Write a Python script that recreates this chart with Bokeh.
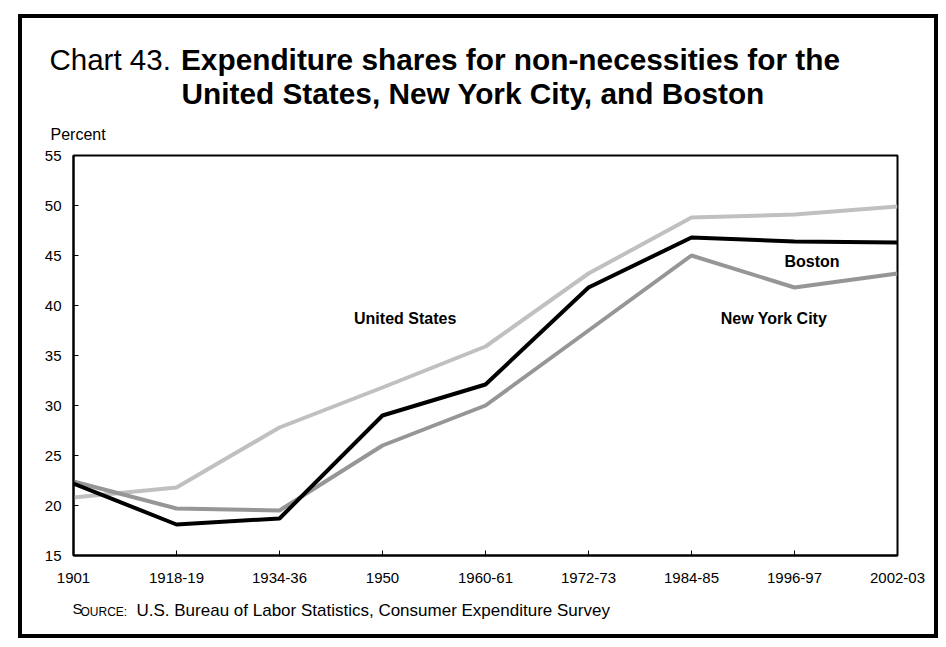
from bokeh.plotting import figure
from bokeh.models import Range1d, FixedTicker, Label
from bokeh.embed import file_html
from bokeh.resources import INLINE

categories = ["1901", "1918-19", "1934-36", "1950", "1960-61", "1972-73", "1984-85", "1996-97", "2002-03"]
us = [20.8, 21.8, 27.8, 31.8, 35.9, 43.2, 48.8, 49.1, 49.9]
boston = [22.2, 18.1, 18.7, 29.0, 32.1, 41.8, 46.8, 46.4, 46.3]
nyc = [22.4, 19.7, 19.5, 26.0, 30.0, 37.5, 45.0, 41.8, 43.2]
y_ticks = [15, 20, 25, 30, 35, 40, 45, 50, 55]

FONT = "Liberation Sans"
OX, OY = 22, 18            # page position of the canvas (inside the black box)
W, H = 912, 616
FL, FR, FT, FB = 73, 897, 155, 555   # plot frame in page pixels

p = figure(width=W, height=H, output_backend="svg", toolbar_location=None,
           x_range=Range1d(0, len(categories) - 1), y_range=Range1d(15, 55),
           min_border_left=FL - OX, min_border_right=OX + W - FR,
           min_border_top=FT - OY, min_border_bottom=OY + H - FB)
p.margin = (OY, 0, 0, OX)
p.styles = {"box-shadow": "0 0 0 4px black"}
p.background_fill_color = "white"
p.border_fill_color = "white"
p.grid.visible = False
p.outline_line_color = "black"
p.outline_line_width = 2

xs = list(range(len(categories)))
p.line(xs, us, line_color="#c0c0c0", line_width=4)
p.line(xs, nyc, line_color="#969696", line_width=4)
p.line(xs, boston, line_color="black", line_width=4)

for ax in (p.xaxis[0], p.yaxis[0]):
    ax.axis_line_color = "black"
    ax.axis_line_width = 2
    ax.major_tick_in = 5
    ax.major_tick_out = 0
    ax.major_tick_line_color = "black"
    ax.major_tick_line_width = 1
    ax.minor_tick_line_color = None
    ax.major_label_text_font = FONT
    ax.major_label_text_font_size = "15px"
    ax.major_label_text_color = "black"

p.xaxis.ticker = FixedTicker(ticks=xs)
p.xaxis.major_label_overrides = {i: c for i, c in enumerate(categories)}
p.xaxis.major_label_standoff = 17
p.yaxis.ticker = FixedTicker(ticks=y_ticks)
p.yaxis.major_label_standoff = 12

# texts outside the plot frame live in the side panels (one row each);
# y is the offset of the baseline above the bottom of the label's row
def plabel(side, px, y, text, size, bold=False):
    p.add_layout(Label(x=px - FL, y=y, x_units="screen", y_units="screen", text=text,
                       text_font=FONT, text_font_size=size,
                       text_font_style="bold" if bold else "normal",
                       text_align="left", text_baseline="alphabetic", text_color="black"), side)

plabel("above", 50, 21.0, "Percent", "16px")
plabel("above", 181, 44.6, "United States, New York City, and Boston", "29.8px", True)
plabel("above", 180.5, 46.4, "Expenditure shares for non-necessities for the", "29.8px", True)
plabel("above", 49, 13.0, "Chart 43.", "29.5px")
plabel("above", 80, -572.3, "OURCE:", "12px")
plabel("below", 72, -6.4, "S", "15px")
plabel("below", 136, 11.0, "U.S. Bureau of Labor Statistics, Consumer Expenditure Survey", "17px")

def dlabel(x, y, text):
    p.add_layout(Label(x=x, y=y, text=text, text_font=FONT, text_font_size="16px",
                       text_font_style="bold", text_align="center", text_baseline="middle",
                       text_color="black"))

dlabel(3.22, 38.7, "United States")
dlabel(7.17, 44.4, "Boston")
dlabel(6.80, 38.7, "New York City")

open("out.html", "w").write(file_html(p, INLINE))
